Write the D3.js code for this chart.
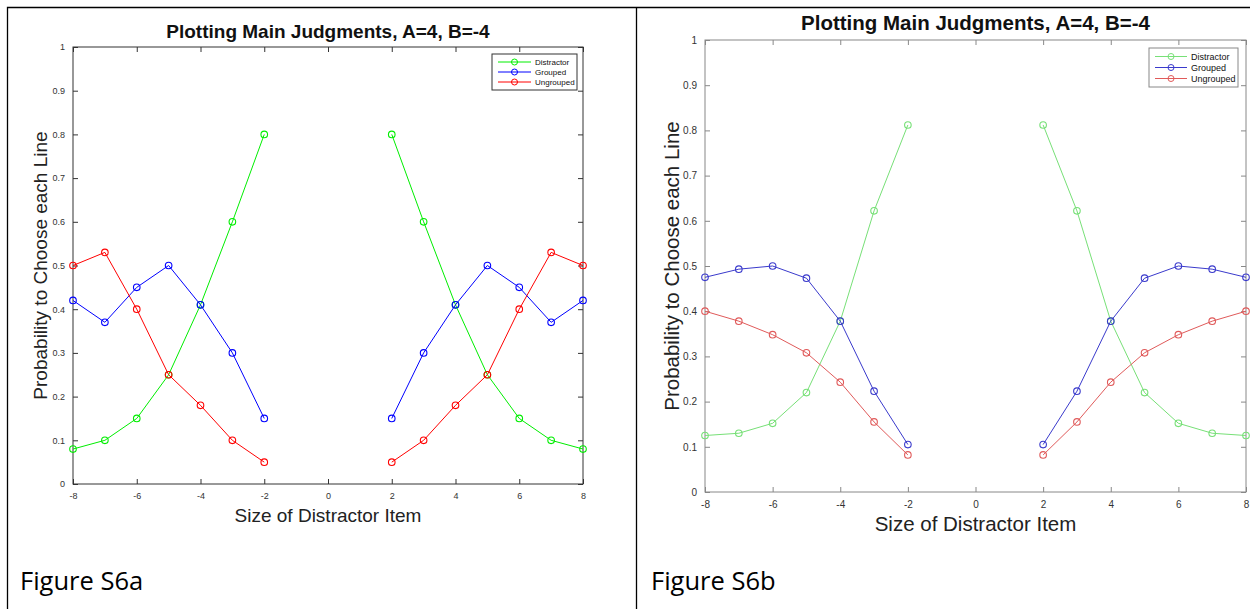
<!DOCTYPE html>
<html>
<head>
<meta charset="utf-8">
<script src="https://cdn.jsdelivr.net/npm/d3@7"></script>
<style>
  body { margin: 0; background: #fff; }
  svg { display: block; }
  text { font-family: "Liberation Sans", Arial, sans-serif; }
</style>
</head>
<body>
<svg id="fig" width="1250" height="610"></svg>
<script>
// x values; null marks the gap between -2 and 2
var sizes = [-8, -7, -6, -5, -4, -3, -2, -1, 0, 1, 2, 3, 4, 5, 6, 7, 8];
var xTicks = [-8, -6, -4, -2, 0, 2, 4, 6, 8];
var yTicks = [0, 0.1, 0.2, 0.3, 0.4, 0.5, 0.6, 0.7, 0.8, 0.9, 1];
var seriesNames = ["Distractor", "Grouped", "Ungrouped"];

// Figure S6a
var distractorA = [0.08, 0.10, 0.15, 0.25, 0.41, 0.60, 0.80, null, null, null, 0.80, 0.60, 0.41, 0.25, 0.15, 0.10, 0.08];
var groupedA    = [0.42, 0.37, 0.45, 0.50, 0.41, 0.30, 0.15, null, null, null, 0.15, 0.30, 0.41, 0.50, 0.45, 0.37, 0.42];
var ungroupedA  = [0.50, 0.53, 0.40, 0.25, 0.18, 0.10, 0.05, null, null, null, 0.05, 0.10, 0.18, 0.25, 0.40, 0.53, 0.50];

// Figure S6b
var distractorB = [0.125, 0.130, 0.152, 0.220, 0.378, 0.622, 0.812, null, null, null, 0.812, 0.622, 0.378, 0.220, 0.152, 0.130, 0.125];
var groupedB    = [0.475, 0.493, 0.500, 0.473, 0.378, 0.223, 0.105, null, null, null, 0.105, 0.223, 0.378, 0.473, 0.500, 0.493, 0.475];
var ungroupedB  = [0.400, 0.378, 0.348, 0.308, 0.243, 0.155, 0.082, null, null, null, 0.082, 0.155, 0.243, 0.308, 0.348, 0.378, 0.400];

var title = "Plotting Main Judgments, A=4, B=-4";
var xName = "Size of Distractor Item";
var yName = "Probability to Choose each Line";

var svg = d3.select("#fig");

// page frame (document table borders)
svg.append("path")
   .attr("d", "M7.5,609 V7.5 H1250 M636.5,7.5 V609")
   .attr("fill", "none")
   .attr("stroke", "#000")
   .attr("stroke-width", 1.3);

svg.append("text").attr("x", 20).attr("y", 590)
   .style("font-family", "'Open Sans', 'Noto Sans', sans-serif")
   .style("font-size", "25.5px").text("Figure S6a");
svg.append("text").attr("x", 651).attr("y", 590)
   .style("font-family", "'Open Sans', 'Noto Sans', sans-serif")
   .style("font-size", "25.5px").text("Figure S6b");


function drawPanel(cfg)
{
  var g = svg.append("g");
  var x = d3.scaleLinear().domain([-8, 8]).range([cfg.left, cfg.right]);
  var y = d3.scaleLinear().domain([0, 1]).range([cfg.bottom, cfg.top]);

  var tick = 5;

  // box
  g.append("rect")
     .attr("x", cfg.left).attr("y", cfg.top)
     .attr("width", cfg.right - cfg.left).attr("height", cfg.bottom - cfg.top)
     .attr("fill", "none").attr("stroke", cfg.axisColor).attr("stroke-width", 1);

  // inward ticks, MATLAB style (plain hyphen minus)
  g.append("g").attr("transform", "translate(0," + cfg.bottom + ")")
     .call(d3.axisBottom(x).tickValues(xTicks).tickSize(-tick).tickPadding(tick + 4)
           .tickFormat(function(d) { return String(d); }))
     .call(styleAxis, cfg);
  g.append("g").attr("transform", "translate(0," + cfg.top + ")")
     .call(d3.axisTop(x).tickValues(xTicks).tickSize(-tick).tickFormat(""))
     .call(styleAxis, cfg);
  g.append("g").attr("transform", "translate(" + cfg.left + ",0)")
     .call(d3.axisLeft(y).tickValues(yTicks).tickSize(-tick).tickPadding(tick + 3)
           .tickFormat(function(d) { return String(d); }))
     .call(styleAxis, cfg);
  g.append("g").attr("transform", "translate(" + cfg.right + ",0)")
     .call(d3.axisRight(y).tickValues(yTicks).tickSize(-tick).tickFormat(""))
     .call(styleAxis, cfg);

  // titles
  g.append("text").attr("x", (cfg.left + cfg.right) / 2).attr("y", cfg.titleY)
     .attr("text-anchor", "middle").style("font-weight", "bold").style("font-size", cfg.titleFont + "px")
     .attr("fill", "#111").text(title);
  g.append("text").attr("x", (cfg.left + cfg.right) / 2).attr("y", cfg.xLabelY)
     .attr("text-anchor", "middle").style("font-size", cfg.labelFont + "px").attr("fill", "#222").text(xName);
  g.append("text")
     .attr("transform", "translate(" + cfg.yLabelX + "," + ((cfg.top + cfg.bottom) / 2) + ") rotate(-90)")
     .attr("text-anchor", "middle").style("font-size", cfg.labelFont + "px").attr("fill", "#222").text(yName);

  var line = d3.line()
     .defined(function(d) { return d.y != null; })
     .x(function(d) { return x(d.x); })
     .y(function(d) { return y(d.y); });

  cfg.series.forEach(function(values, i) {
    var data = sizes.map(function(s, j) { return {x: s, y: values[j]}; });
    g.append("path").datum(data)
       .attr("fill", "none").attr("stroke", cfg.colors[i]).attr("stroke-width", 1)
       .attr("d", line);
    g.selectAll(null).data(data.filter(function(d) { return d.y != null; }))
       .enter().append("circle")
       .attr("cx", function(d) { return x(d.x); })
       .attr("cy", function(d) { return y(d.y); })
       .attr("r", 3.3)
       .attr("fill", "none").attr("stroke", cfg.colors[i]).attr("stroke-width", 1.1);
  });

  // legend
  var lg = g.append("g").attr("transform", "translate(" + cfg.legend[0] + "," + cfg.legend[1] + ")");
  lg.append("rect").attr("width", cfg.legend[2]).attr("height", cfg.legend[3])
     .attr("fill", "#fff").attr("stroke", cfg.axisColor).attr("stroke-width", 1);
  var rowH = (cfg.legend[3] - 6) / 3;
  seriesNames.forEach(function(name, i) {
    var yy = 3 + rowH * (i + 0.5);
    lg.append("line").attr("x1", 6).attr("x2", cfg.legendLine + 6).attr("y1", yy).attr("y2", yy)
       .attr("stroke", cfg.colors[i]).attr("stroke-width", 1);
    lg.append("circle").attr("cx", 6 + cfg.legendLine / 2).attr("cy", yy).attr("r", 3)
       .attr("fill", "none").attr("stroke", cfg.colors[i]);
    lg.append("text").attr("x", cfg.legendLine + 10).attr("y", yy).attr("dy", "0.35em")
       .style("font-size", cfg.legendFont + "px").attr("fill", "#111").text(name);
  });
}


function styleAxis(sel, cfg)
{
  sel.select(".domain").remove();
  sel.selectAll(".tick line").attr("stroke", cfg.axisColor);
  sel.selectAll(".tick text").attr("fill", "#333").style("font-size", cfg.tickFont + "px")
     .style("font-family", "'Liberation Sans', Arial, sans-serif");
}


drawPanel({
  left: 73, right: 583, top: 47, bottom: 484,
  axisColor: "#333", tickFont: 9,
  titleFont: 19, labelFont: 19,
  titleY: 38, xLabelY: 522, yLabelX: 47,
  colors: ["#00ee00", "#0000ff", "#ff0000"],
  series: [distractorA, groupedA, ungroupedA],
  legend: [492, 54, 85, 36], legendLine: 33, legendFont: 8
});

drawPanel({
  left: 705, right: 1246, top: 40, bottom: 492,
  axisColor: "#888", tickFont: 10,
  titleFont: 20.5, labelFont: 20.5,
  titleY: 30, xLabelY: 531, yLabelX: 679,
  colors: ["#77e077", "#3a3acc", "#e05a5a"],
  series: [distractorB, groupedB, ungroupedB],
  legend: [1149, 48, 89, 39], legendLine: 32, legendFont: 9
});
</script>
</body>
</html>
